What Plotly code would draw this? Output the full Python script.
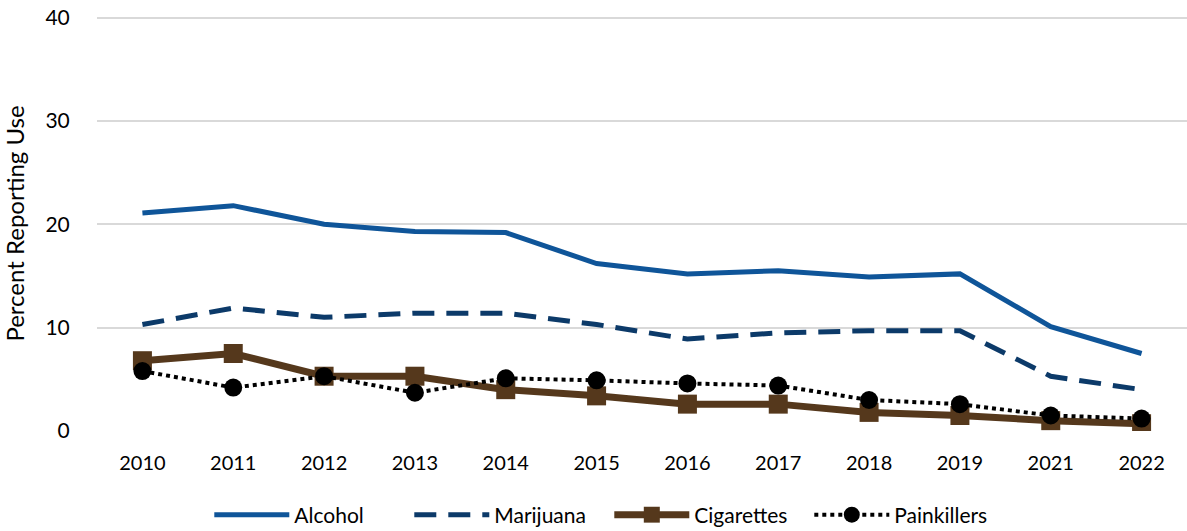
import plotly.graph_objects as go

years = ["2010", "2011", "2012", "2013", "2014", "2015", "2016", "2017", "2018", "2019", "2021", "2022"]
alcohol = [21.1, 21.8, 20.0, 19.3, 19.2, 16.2, 15.2, 15.5, 14.9, 15.2, 10.1, 7.5]
marijuana = [10.3, 11.9, 11.0, 11.4, 11.4, 10.3, 8.9, 9.5, 9.7, 9.7, 5.3, 4.0]
cigarettes = [6.8, 7.5, 5.3, 5.3, 4.0, 3.4, 2.6, 2.6, 1.8, 1.5, 1.0, 0.7]
painkillers = [5.8, 4.2, 5.3, 3.7, 5.1, 4.9, 4.6, 4.4, 3.0, 2.6, 1.5, 1.2]
y_ticks = [0, 10, 20, 30, 40]

FONT = "Lato, 'Open Sans', sans-serif"

fig = go.Figure()
fig.add_trace(go.Scatter(x=years, y=alcohol, name="Alcohol", mode="lines",
                         line=dict(color="#0F5599", width=5)))
fig.add_trace(go.Scatter(x=years, y=marijuana, name="Marijuana", mode="lines",
                         line=dict(color="#0C3A69", width=5, dash="22px,12px")))
fig.add_trace(go.Scatter(x=years, y=cigarettes, name="Cigarettes", mode="lines+markers",
                         line=dict(color="#55381C", width=7),
                         marker=dict(symbol="square", size=19, color="#55381C")))
fig.add_trace(go.Scatter(x=years, y=painkillers, name="Painkillers", mode="lines+markers",
                         line=dict(color="#000000", width=4, dash="dot"),
                         marker=dict(symbol="circle", size=18, color="#000000")))

fig.update_layout(
    width=1187, height=531,
    margin=dict(l=97, r=0, t=16, b=100, autoexpand=False),
    paper_bgcolor="white", plot_bgcolor="white",
    font=dict(family=FONT, size=20, color="#000000"),
    showlegend=True,
    legend=dict(orientation="h", x=0.47, xanchor="center", y=-0.2024, yanchor="middle",
                font=dict(size=21), itemwidth=75, entrywidth=110, traceorder="normal"),
    xaxis=dict(type="category", range=[-0.5, 11.5], showgrid=False, showline=False,
               zeroline=False, ticks="", tickfont=dict(size=20), ticklabelstandoff=18,
               automargin=False),
    yaxis=dict(range=[0, 40.15], tickvals=y_ticks, showgrid=True, gridcolor="#D9D9D9",
               gridwidth=2, zeroline=False, showline=False,
               ticks="outside", ticklen=22, tickcolor="rgba(0,0,0,0)",
               tickfont=dict(size=21), ticklabeloverflow="allow", automargin=False,
               title=dict(text="Percent Reporting Use", font=dict(size=24), standoff=22)),
)

# remove the browser's default 8px body margin so the figure sits at the page corner
fig.write_html("out.html", config={"displayModeBar": False},
               post_script="document.body.style.margin='0';")
